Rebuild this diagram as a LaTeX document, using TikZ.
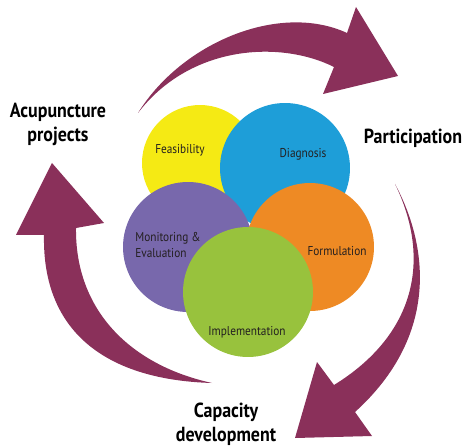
\documentclass[tikz,border=0pt]{standalone}
\usepackage{fontspec}
\setmainfont{PT Sans}[FakeStretch=0.88]
\definecolor{feasc}{HTML}{F5EA14}
\definecolor{diagc}{HTML}{1E9ED8}
\definecolor{monic}{HTML}{7868AC}
\definecolor{formc}{HTML}{EE8A24}
\definecolor{implc}{HTML}{98C23D}
\definecolor{sweepc}{HTML}{8A305A}
\definecolor{inkc}{HTML}{231F20}

\begin{document}
\begin{tikzpicture}[x=0.02cm,y=-0.02cm,
   disc/.style={circle,inner sep=0pt,draw=none},
   lab/.style={text=inkc,inner sep=0pt,font=\fontsize{7.3}{9}\selectfont},
   big/.style={align=center,inner sep=0pt,font=\fontsize{11.6}{13.6}\selectfont\bfseries},
   sweep/.style={fill=sweepc,draw=none}]
   \useasboundingbox (0,0) rectangle (465,448);
   % the three turning arrows
   \fill[sweep] (138,113) .. controls (182,42) and (280,2) .. (347,33)
      -- (356,7) -- (398,76) -- (323,94) -- (334,67)
      .. controls (280,40) and (190,45) .. cycle;
   \fill[sweep] (395,184) .. controls (428,245) and (440,335) .. (355,412)
      -- (372,436) -- (295,438) -- (317,362) -- (334,385)
      .. controls (415,335) and (432,260) .. cycle;
   \fill[sweep] (212,383) .. controls (110,380) and (42,335) .. (44,235)
      -- (16,235) -- (52,163) -- (104,223) -- (76,228)
      .. controls (75,310) and (130,365) .. cycle;
   % the five stages
   \node[disc,fill=feasc,minimum size=2.32cm] (feas) at (200,163) {};
   \node[disc,fill=diagc,minimum size=2.6cm]  (diag) at (285,168) {};
   \node[disc,fill=monic,minimum size=2.6cm]  (moni) at (188,247) {};
   \node[disc,fill=formc,minimum size=2.56cm] (form) at (310,247) {};
   \node[disc,fill=implc,minimum size=2.6cm]  (impl) at (248,292) {};
   \node[lab] (tfeas) at (180,150) {Feasibility};
   \node[lab] (tdiag) at (303,154) {Diagnosis};
   \node[lab,align=left,anchor=west] (tmoni) at (135,245) {Monitoring \&\\Evaluation};
   \node[lab] (tform) at (337,251) {Formulation};
   \node[lab] (timpl) at (247,332) {Implementation};
   % outer labels
   \node[big] (acup) at (58,124) {Acupuncture\\projects};
   \node[big] (part) at (413,138) {Participation};
   \node[big] (capa) at (226,424) {Capacity\\development};
\end{tikzpicture}
\end{document}
